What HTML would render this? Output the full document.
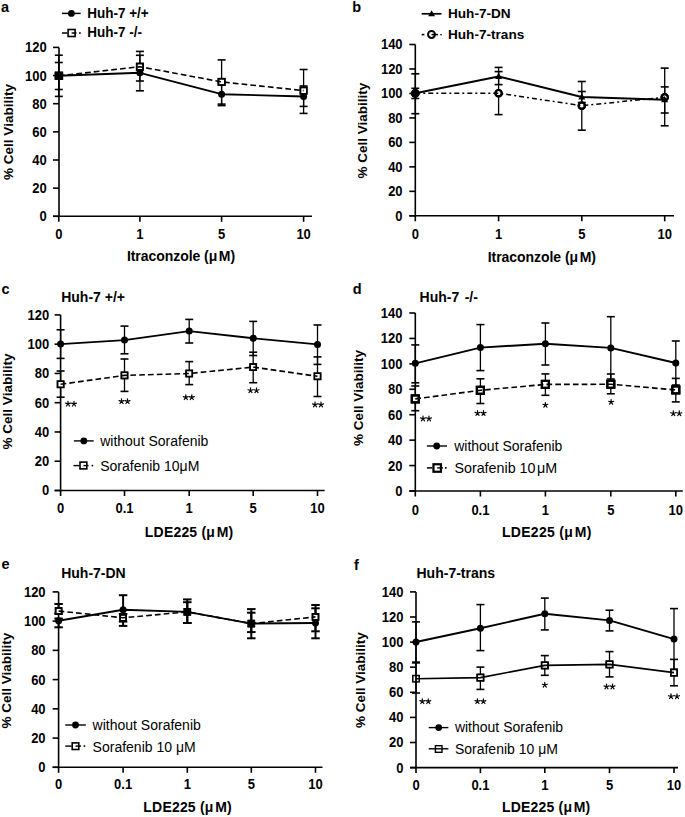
<!DOCTYPE html>
<html><head><meta charset="utf-8"><style>
html,body{margin:0;padding:0;background:#fff;overflow:hidden;width:685px;height:817px;}
svg{display:block;font-family:"Liberation Sans", sans-serif;}
</style></head><body>
<svg width="685" height="817" viewBox="0 0 685 817">
<rect width="685" height="817" fill="#fff"/>
<line x1="59" y1="47.4" x2="59" y2="217.1" stroke="#000" stroke-width="1.6"/>
<line x1="53" y1="216.3" x2="59" y2="216.3" stroke="#000" stroke-width="1.6"/>
<text transform="translate(46.8,221.27) scale(1,1.08)" font-size="13" font-weight="bold" text-anchor="end">0</text>
<line x1="53" y1="188.15" x2="59" y2="188.15" stroke="#000" stroke-width="1.6"/>
<text transform="translate(46.8,193.12) scale(1,1.08)" font-size="13" font-weight="bold" text-anchor="end">20</text>
<line x1="53" y1="160" x2="59" y2="160" stroke="#000" stroke-width="1.6"/>
<text transform="translate(46.8,164.97) scale(1,1.08)" font-size="13" font-weight="bold" text-anchor="end">40</text>
<line x1="53" y1="131.85" x2="59" y2="131.85" stroke="#000" stroke-width="1.6"/>
<text transform="translate(46.8,136.82) scale(1,1.08)" font-size="13" font-weight="bold" text-anchor="end">60</text>
<line x1="53" y1="103.7" x2="59" y2="103.7" stroke="#000" stroke-width="1.6"/>
<text transform="translate(46.8,108.67) scale(1,1.08)" font-size="13" font-weight="bold" text-anchor="end">80</text>
<line x1="53" y1="75.55" x2="59" y2="75.55" stroke="#000" stroke-width="1.6"/>
<text transform="translate(46.8,80.52) scale(1,1.08)" font-size="13" font-weight="bold" text-anchor="end">100</text>
<line x1="53" y1="47.4" x2="59" y2="47.4" stroke="#000" stroke-width="1.6"/>
<text transform="translate(46.8,52.37) scale(1,1.08)" font-size="13" font-weight="bold" text-anchor="end">120</text>
<line x1="53" y1="216.3" x2="312" y2="216.3" stroke="#000" stroke-width="1.6"/>
<line x1="58.8" y1="216.3" x2="58.8" y2="221.8" stroke="#000" stroke-width="1.6"/>
<text transform="translate(58.8,238.97) scale(1,1.08)" font-size="13" font-weight="bold" text-anchor="middle">0</text>
<line x1="139.9" y1="216.3" x2="139.9" y2="221.8" stroke="#000" stroke-width="1.6"/>
<text transform="translate(139.9,238.97) scale(1,1.08)" font-size="13" font-weight="bold" text-anchor="middle">1</text>
<line x1="221.6" y1="216.3" x2="221.6" y2="221.8" stroke="#000" stroke-width="1.6"/>
<text transform="translate(221.6,238.97) scale(1,1.08)" font-size="13" font-weight="bold" text-anchor="middle">5</text>
<line x1="303.6" y1="216.3" x2="303.6" y2="221.8" stroke="#000" stroke-width="1.6"/>
<text transform="translate(303.6,238.97) scale(1,1.08)" font-size="13" font-weight="bold" text-anchor="middle">10</text>
<text x="181" y="261.3" font-size="14" font-weight="bold" text-anchor="middle" letter-spacing="-0.05">Itraconzole (μ<tspan dx="1.6">M</tspan>)</text>
<text transform="translate(13.4,132) rotate(-90)" font-size="13.5" font-weight="bold" text-anchor="middle">% Cell Viability</text>
<line x1="58.8" y1="55.2" x2="58.8" y2="96.4" stroke="#000" stroke-width="1.3"/>
<line x1="54.8" y1="55.2" x2="62.8" y2="55.2" stroke="#000" stroke-width="1.6"/>
<line x1="54.8" y1="96.4" x2="62.8" y2="96.4" stroke="#000" stroke-width="1.6"/>
<line x1="139.9" y1="51.4" x2="139.9" y2="81" stroke="#000" stroke-width="1.3"/>
<line x1="135.9" y1="51.4" x2="143.9" y2="51.4" stroke="#000" stroke-width="1.6"/>
<line x1="135.9" y1="81" x2="143.9" y2="81" stroke="#000" stroke-width="1.6"/>
<line x1="221.6" y1="59.9" x2="221.6" y2="104.1" stroke="#000" stroke-width="1.3"/>
<line x1="217.6" y1="59.9" x2="225.6" y2="59.9" stroke="#000" stroke-width="1.6"/>
<line x1="217.6" y1="104.1" x2="225.6" y2="104.1" stroke="#000" stroke-width="1.6"/>
<line x1="303.6" y1="69.5" x2="303.6" y2="113.4" stroke="#000" stroke-width="1.3"/>
<line x1="299.6" y1="69.5" x2="307.6" y2="69.5" stroke="#000" stroke-width="1.6"/>
<line x1="299.6" y1="113.4" x2="307.6" y2="113.4" stroke="#000" stroke-width="1.6"/>
<line x1="58.8" y1="62.5" x2="58.8" y2="89.5" stroke="#000" stroke-width="1.3"/>
<line x1="54.8" y1="62.5" x2="62.8" y2="62.5" stroke="#000" stroke-width="1.6"/>
<line x1="54.8" y1="89.5" x2="62.8" y2="89.5" stroke="#000" stroke-width="1.6"/>
<line x1="139.9" y1="55.3" x2="139.9" y2="90.8" stroke="#000" stroke-width="1.3"/>
<line x1="135.9" y1="55.3" x2="143.9" y2="55.3" stroke="#000" stroke-width="1.6"/>
<line x1="135.9" y1="90.8" x2="143.9" y2="90.8" stroke="#000" stroke-width="1.6"/>
<line x1="221.6" y1="82.8" x2="221.6" y2="105.6" stroke="#000" stroke-width="1.3"/>
<line x1="217.6" y1="82.8" x2="225.6" y2="82.8" stroke="#000" stroke-width="1.6"/>
<line x1="217.6" y1="105.6" x2="225.6" y2="105.6" stroke="#000" stroke-width="1.6"/>
<line x1="303.6" y1="86" x2="303.6" y2="106.4" stroke="#000" stroke-width="1.3"/>
<line x1="299.6" y1="86" x2="307.6" y2="86" stroke="#000" stroke-width="1.6"/>
<line x1="299.6" y1="106.4" x2="307.6" y2="106.4" stroke="#000" stroke-width="1.6"/>
<rect x="55.6" y="72.6" width="6.4" height="6.4" fill="#fff" stroke="#000" stroke-width="1.6"/>
<rect x="136.7" y="63.5" width="6.4" height="6.4" fill="#fff" stroke="#000" stroke-width="1.6"/>
<rect x="218.4" y="78.7" width="6.4" height="6.4" fill="#fff" stroke="#000" stroke-width="1.6"/>
<rect x="300.4" y="87.4" width="6.4" height="6.4" fill="#fff" stroke="#000" stroke-width="1.6"/>
<polyline points="58.8,75.8 139.9,66.7 221.6,81.9 303.6,90.6" fill="none" stroke="#000" stroke-width="1.6" stroke-linejoin="round" stroke-dasharray="5.7,3.1"/>
<polyline points="58.8,75.8 139.9,72.8 221.6,94.2 303.6,96.5" fill="none" stroke="#000" stroke-width="1.9" stroke-linejoin="round"/>
<rect x="55.6" y="72.6" width="6.4" height="6.4" fill="none" stroke="#000" stroke-width="1.6"/>
<rect x="136.7" y="63.5" width="6.4" height="6.4" fill="none" stroke="#000" stroke-width="1.6"/>
<rect x="218.4" y="78.7" width="6.4" height="6.4" fill="none" stroke="#000" stroke-width="1.6"/>
<rect x="300.4" y="87.4" width="6.4" height="6.4" fill="none" stroke="#000" stroke-width="1.6"/>
<circle cx="58.8" cy="75.8" r="3.5" fill="#000"/>
<circle cx="139.9" cy="72.8" r="3.5" fill="#000"/>
<circle cx="221.6" cy="94.2" r="3.5" fill="#000"/>
<circle cx="303.6" cy="96.5" r="3.5" fill="#000"/>
<rect x="55.5" y="72.3" width="7" height="7" fill="#000" stroke="#000" stroke-width="1.4"/>
<line x1="62" y1="13.4" x2="80.7" y2="13.4" stroke="#000" stroke-width="1.5"/>
<circle cx="71.4" cy="13.4" r="3.4" fill="#000"/>
<line x1="62" y1="33" x2="67.5" y2="33" stroke="#000" stroke-width="1.5"/>
<line x1="79" y1="33" x2="80.8" y2="33" stroke="#000" stroke-width="1.6"/>
<rect x="68.1" y="29.5" width="7" height="7" fill="none" stroke="#000" stroke-width="1.6"/>
<line x1="71.6" y1="33" x2="76.5" y2="33" stroke="#000" stroke-width="1.5"/>
<text transform="translate(87.2,17.6) scale(1,1.04)" font-size="13.5" font-weight="bold" text-anchor="start">Huh-7 +/+</text>
<text transform="translate(87.2,37.3) scale(1,1.04)" font-size="13.5" font-weight="bold" text-anchor="start">Huh-7 -/-</text>
<text x="1" y="11.7" font-size="14.5" font-weight="bold" text-anchor="start">a</text>
<line x1="415.3" y1="44.51" x2="415.3" y2="216.6" stroke="#000" stroke-width="1.6"/>
<line x1="409.3" y1="215.8" x2="415.3" y2="215.8" stroke="#000" stroke-width="1.6"/>
<text transform="translate(402.6,220.77) scale(1,1.08)" font-size="13" font-weight="bold" text-anchor="end">0</text>
<line x1="409.3" y1="191.33" x2="415.3" y2="191.33" stroke="#000" stroke-width="1.6"/>
<text transform="translate(402.6,196.3) scale(1,1.08)" font-size="13" font-weight="bold" text-anchor="end">20</text>
<line x1="409.3" y1="166.86" x2="415.3" y2="166.86" stroke="#000" stroke-width="1.6"/>
<text transform="translate(402.6,171.83) scale(1,1.08)" font-size="13" font-weight="bold" text-anchor="end">40</text>
<line x1="409.3" y1="142.39" x2="415.3" y2="142.39" stroke="#000" stroke-width="1.6"/>
<text transform="translate(402.6,147.36) scale(1,1.08)" font-size="13" font-weight="bold" text-anchor="end">60</text>
<line x1="409.3" y1="117.92" x2="415.3" y2="117.92" stroke="#000" stroke-width="1.6"/>
<text transform="translate(402.6,122.89) scale(1,1.08)" font-size="13" font-weight="bold" text-anchor="end">80</text>
<line x1="409.3" y1="93.45" x2="415.3" y2="93.45" stroke="#000" stroke-width="1.6"/>
<text transform="translate(402.6,98.42) scale(1,1.08)" font-size="13" font-weight="bold" text-anchor="end">100</text>
<line x1="409.3" y1="68.98" x2="415.3" y2="68.98" stroke="#000" stroke-width="1.6"/>
<text transform="translate(402.6,73.95) scale(1,1.08)" font-size="13" font-weight="bold" text-anchor="end">120</text>
<line x1="409.3" y1="44.51" x2="415.3" y2="44.51" stroke="#000" stroke-width="1.6"/>
<text transform="translate(402.6,49.48) scale(1,1.08)" font-size="13" font-weight="bold" text-anchor="end">140</text>
<line x1="409.3" y1="215.8" x2="674" y2="215.8" stroke="#000" stroke-width="1.6"/>
<line x1="415.3" y1="215.8" x2="415.3" y2="221.3" stroke="#000" stroke-width="1.6"/>
<text transform="translate(415.3,238.87) scale(1,1.08)" font-size="13" font-weight="bold" text-anchor="middle">0</text>
<line x1="498.6" y1="215.8" x2="498.6" y2="221.3" stroke="#000" stroke-width="1.6"/>
<text transform="translate(498.6,238.87) scale(1,1.08)" font-size="13" font-weight="bold" text-anchor="middle">1</text>
<line x1="581.8" y1="215.8" x2="581.8" y2="221.3" stroke="#000" stroke-width="1.6"/>
<text transform="translate(581.8,238.87) scale(1,1.08)" font-size="13" font-weight="bold" text-anchor="middle">5</text>
<line x1="664.7" y1="215.8" x2="664.7" y2="221.3" stroke="#000" stroke-width="1.6"/>
<text transform="translate(664.7,238.87) scale(1,1.08)" font-size="13" font-weight="bold" text-anchor="middle">10</text>
<text x="541.8" y="261.6" font-size="14" font-weight="bold" text-anchor="middle" letter-spacing="-0.05">Itraconzole (μ<tspan dx="1.6">M</tspan>)</text>
<text transform="translate(367.3,130.6) rotate(-90)" font-size="13.5" font-weight="bold" text-anchor="middle">% Cell Viability</text>
<line x1="415.3" y1="73.8" x2="415.3" y2="113.7" stroke="#000" stroke-width="1.3"/>
<line x1="411.3" y1="73.8" x2="419.3" y2="73.8" stroke="#000" stroke-width="1.6"/>
<line x1="411.3" y1="113.7" x2="419.3" y2="113.7" stroke="#000" stroke-width="1.6"/>
<line x1="498.6" y1="71.6" x2="498.6" y2="114.6" stroke="#000" stroke-width="1.3"/>
<line x1="494.6" y1="71.6" x2="502.6" y2="71.6" stroke="#000" stroke-width="1.6"/>
<line x1="494.6" y1="114.6" x2="502.6" y2="114.6" stroke="#000" stroke-width="1.6"/>
<line x1="581.8" y1="81.5" x2="581.8" y2="130.2" stroke="#000" stroke-width="1.3"/>
<line x1="577.8" y1="81.5" x2="585.8" y2="81.5" stroke="#000" stroke-width="1.6"/>
<line x1="577.8" y1="130.2" x2="585.8" y2="130.2" stroke="#000" stroke-width="1.6"/>
<line x1="664.7" y1="68.1" x2="664.7" y2="125.8" stroke="#000" stroke-width="1.3"/>
<line x1="660.7" y1="68.1" x2="668.7" y2="68.1" stroke="#000" stroke-width="1.6"/>
<line x1="660.7" y1="125.8" x2="668.7" y2="125.8" stroke="#000" stroke-width="1.6"/>
<line x1="415.3" y1="88.3" x2="415.3" y2="98.5" stroke="#000" stroke-width="1.3"/>
<line x1="411.3" y1="88.3" x2="419.3" y2="88.3" stroke="#000" stroke-width="1.6"/>
<line x1="411.3" y1="98.5" x2="419.3" y2="98.5" stroke="#000" stroke-width="1.6"/>
<line x1="498.6" y1="67.4" x2="498.6" y2="84.6" stroke="#000" stroke-width="1.3"/>
<line x1="494.6" y1="67.4" x2="502.6" y2="67.4" stroke="#000" stroke-width="1.6"/>
<line x1="494.6" y1="84.6" x2="502.6" y2="84.6" stroke="#000" stroke-width="1.6"/>
<line x1="581.8" y1="91.5" x2="581.8" y2="102.5" stroke="#000" stroke-width="1.3"/>
<line x1="577.8" y1="91.5" x2="585.8" y2="91.5" stroke="#000" stroke-width="1.6"/>
<line x1="577.8" y1="102.5" x2="585.8" y2="102.5" stroke="#000" stroke-width="1.6"/>
<line x1="664.7" y1="86.9" x2="664.7" y2="113" stroke="#000" stroke-width="1.3"/>
<line x1="660.7" y1="86.9" x2="668.7" y2="86.9" stroke="#000" stroke-width="1.6"/>
<line x1="660.7" y1="113" x2="668.7" y2="113" stroke="#000" stroke-width="1.6"/>
<circle cx="415.3" cy="93.2" r="3.2" fill="#fff" stroke="#000" stroke-width="2.1"/>
<circle cx="498.6" cy="93.2" r="3.2" fill="#fff" stroke="#000" stroke-width="2.1"/>
<circle cx="581.8" cy="105.7" r="3.2" fill="#fff" stroke="#000" stroke-width="2.1"/>
<circle cx="664.7" cy="97.3" r="3.2" fill="#fff" stroke="#000" stroke-width="2.1"/>
<polyline points="415.3,93.2 498.6,93.2 581.8,105.7 664.7,97.3" fill="none" stroke="#000" stroke-width="1.5" stroke-linejoin="round" stroke-dasharray="5,3,2,3"/>
<polyline points="415.3,93.2 498.6,76.5 581.8,97 664.7,99.7" fill="none" stroke="#000" stroke-width="1.9" stroke-linejoin="round"/>
<circle cx="415.3" cy="93.2" r="3.2" fill="none" stroke="#000" stroke-width="2.1"/>
<circle cx="498.6" cy="93.2" r="3.2" fill="none" stroke="#000" stroke-width="2.1"/>
<circle cx="581.8" cy="105.7" r="3.2" fill="none" stroke="#000" stroke-width="2.1"/>
<circle cx="664.7" cy="97.3" r="3.2" fill="none" stroke="#000" stroke-width="2.1"/>
<polygon points="415.3,89.42 418.8,95.72 411.8,95.72" fill="#000"/>
<polygon points="498.6,72.72 502.1,79.02 495.1,79.02" fill="#000"/>
<polygon points="581.8,93.22 585.3,99.52 578.3,99.52" fill="#000"/>
<polygon points="664.7,95.92 668.2,102.22 661.2,102.22" fill="#000"/>
<circle cx="415.3" cy="93.5" r="4.3" fill="#000"/>
<line x1="421.7" y1="13.8" x2="441.5" y2="13.8" stroke="#000" stroke-width="1.7"/>
<polygon points="431.6,10.13 435,16.25 428.2,16.25" fill="#000"/>
<line x1="421.7" y1="34.6" x2="424.4" y2="34.6" stroke="#000" stroke-width="1.6"/>
<line x1="440.3" y1="34.6" x2="441.8" y2="34.6" stroke="#000" stroke-width="1.4"/>
<circle cx="431.5" cy="34.5" r="3.45" fill="none" stroke="#000" stroke-width="2"/>
<line x1="431.5" y1="34.6" x2="438" y2="34.6" stroke="#000" stroke-width="1.5"/>
<text x="448" y="18.4" font-size="13.6" font-weight="bold" text-anchor="start">Huh-7-DN</text>
<text x="448" y="38.5" font-size="13.6" font-weight="bold" text-anchor="start">Huh-7-trans</text>
<text x="352.2" y="11.8" font-size="14.5" font-weight="bold" text-anchor="start">b</text>
<line x1="60.6" y1="314.9" x2="60.6" y2="491.3" stroke="#000" stroke-width="1.6"/>
<line x1="54.6" y1="490.5" x2="60.6" y2="490.5" stroke="#000" stroke-width="1.6"/>
<text transform="translate(49.2,495.47) scale(1,1.08)" font-size="13" font-weight="bold" text-anchor="end">0</text>
<line x1="54.6" y1="461.23" x2="60.6" y2="461.23" stroke="#000" stroke-width="1.6"/>
<text transform="translate(49.2,466.2) scale(1,1.08)" font-size="13" font-weight="bold" text-anchor="end">20</text>
<line x1="54.6" y1="431.97" x2="60.6" y2="431.97" stroke="#000" stroke-width="1.6"/>
<text transform="translate(49.2,436.94) scale(1,1.08)" font-size="13" font-weight="bold" text-anchor="end">40</text>
<line x1="54.6" y1="402.7" x2="60.6" y2="402.7" stroke="#000" stroke-width="1.6"/>
<text transform="translate(49.2,407.67) scale(1,1.08)" font-size="13" font-weight="bold" text-anchor="end">60</text>
<line x1="54.6" y1="373.44" x2="60.6" y2="373.44" stroke="#000" stroke-width="1.6"/>
<text transform="translate(49.2,378.41) scale(1,1.08)" font-size="13" font-weight="bold" text-anchor="end">80</text>
<line x1="54.6" y1="344.17" x2="60.6" y2="344.17" stroke="#000" stroke-width="1.6"/>
<text transform="translate(49.2,349.14) scale(1,1.08)" font-size="13" font-weight="bold" text-anchor="end">100</text>
<line x1="54.6" y1="314.9" x2="60.6" y2="314.9" stroke="#000" stroke-width="1.6"/>
<text transform="translate(49.2,319.87) scale(1,1.08)" font-size="13" font-weight="bold" text-anchor="end">120</text>
<line x1="54.6" y1="490.5" x2="324.6" y2="490.5" stroke="#000" stroke-width="1.6"/>
<line x1="60.6" y1="490.5" x2="60.6" y2="496" stroke="#000" stroke-width="1.6"/>
<text transform="translate(60.6,512.97) scale(1,1.08)" font-size="13" font-weight="bold" text-anchor="middle">0</text>
<line x1="124.5" y1="490.5" x2="124.5" y2="496" stroke="#000" stroke-width="1.6"/>
<text transform="translate(124.5,512.97) scale(1,1.08)" font-size="13" font-weight="bold" text-anchor="middle">0.1</text>
<line x1="189.2" y1="490.5" x2="189.2" y2="496" stroke="#000" stroke-width="1.6"/>
<text transform="translate(189.2,512.97) scale(1,1.08)" font-size="13" font-weight="bold" text-anchor="middle">1</text>
<line x1="253.2" y1="490.5" x2="253.2" y2="496" stroke="#000" stroke-width="1.6"/>
<text transform="translate(253.2,512.97) scale(1,1.08)" font-size="13" font-weight="bold" text-anchor="middle">5</text>
<line x1="317.5" y1="490.5" x2="317.5" y2="496" stroke="#000" stroke-width="1.6"/>
<text transform="translate(317.5,512.97) scale(1,1.08)" font-size="13" font-weight="bold" text-anchor="middle">10</text>
<text transform="translate(189.1,537.2) scale(1,1.04)" font-size="14" font-weight="bold" text-anchor="middle" letter-spacing="0.2">LDE225 (μ<tspan dx="1.6">M</tspan>)</text>
<text transform="translate(12.2,401.5) rotate(-90)" font-size="13.5" font-weight="bold" text-anchor="middle">% Cell Viability</text>
<line x1="60.6" y1="371" x2="60.6" y2="397.2" stroke="#000" stroke-width="1.3"/>
<line x1="56.6" y1="371" x2="64.6" y2="371" stroke="#000" stroke-width="1.6"/>
<line x1="56.6" y1="397.2" x2="64.6" y2="397.2" stroke="#000" stroke-width="1.6"/>
<line x1="124.5" y1="359" x2="124.5" y2="391.4" stroke="#000" stroke-width="1.3"/>
<line x1="120.5" y1="359" x2="128.5" y2="359" stroke="#000" stroke-width="1.6"/>
<line x1="120.5" y1="391.4" x2="128.5" y2="391.4" stroke="#000" stroke-width="1.6"/>
<line x1="189.2" y1="361.6" x2="189.2" y2="384.6" stroke="#000" stroke-width="1.3"/>
<line x1="185.2" y1="361.6" x2="193.2" y2="361.6" stroke="#000" stroke-width="1.6"/>
<line x1="185.2" y1="384.6" x2="193.2" y2="384.6" stroke="#000" stroke-width="1.6"/>
<line x1="253.2" y1="352.2" x2="253.2" y2="382.7" stroke="#000" stroke-width="1.3"/>
<line x1="249.2" y1="352.2" x2="257.2" y2="352.2" stroke="#000" stroke-width="1.6"/>
<line x1="249.2" y1="382.7" x2="257.2" y2="382.7" stroke="#000" stroke-width="1.6"/>
<line x1="317.5" y1="356.9" x2="317.5" y2="396.5" stroke="#000" stroke-width="1.3"/>
<line x1="313.5" y1="356.9" x2="321.5" y2="356.9" stroke="#000" stroke-width="1.6"/>
<line x1="313.5" y1="396.5" x2="321.5" y2="396.5" stroke="#000" stroke-width="1.6"/>
<line x1="60.6" y1="329.8" x2="60.6" y2="358.4" stroke="#000" stroke-width="1.3"/>
<line x1="56.6" y1="329.8" x2="64.6" y2="329.8" stroke="#000" stroke-width="1.6"/>
<line x1="56.6" y1="358.4" x2="64.6" y2="358.4" stroke="#000" stroke-width="1.6"/>
<line x1="124.5" y1="326.1" x2="124.5" y2="353.8" stroke="#000" stroke-width="1.3"/>
<line x1="120.5" y1="326.1" x2="128.5" y2="326.1" stroke="#000" stroke-width="1.6"/>
<line x1="120.5" y1="353.8" x2="128.5" y2="353.8" stroke="#000" stroke-width="1.6"/>
<line x1="189.2" y1="319.4" x2="189.2" y2="343" stroke="#000" stroke-width="1.3"/>
<line x1="185.2" y1="319.4" x2="193.2" y2="319.4" stroke="#000" stroke-width="1.6"/>
<line x1="185.2" y1="343" x2="193.2" y2="343" stroke="#000" stroke-width="1.6"/>
<line x1="253.2" y1="321.4" x2="253.2" y2="355.5" stroke="#000" stroke-width="1.3"/>
<line x1="249.2" y1="321.4" x2="257.2" y2="321.4" stroke="#000" stroke-width="1.6"/>
<line x1="249.2" y1="355.5" x2="257.2" y2="355.5" stroke="#000" stroke-width="1.6"/>
<line x1="317.5" y1="325" x2="317.5" y2="364.4" stroke="#000" stroke-width="1.3"/>
<line x1="313.5" y1="325" x2="321.5" y2="325" stroke="#000" stroke-width="1.6"/>
<line x1="313.5" y1="364.4" x2="321.5" y2="364.4" stroke="#000" stroke-width="1.6"/>
<rect x="57.5" y="381.2" width="6.2" height="6.2" fill="#fff" stroke="#000" stroke-width="1.5"/>
<rect x="121.4" y="372.3" width="6.2" height="6.2" fill="#fff" stroke="#000" stroke-width="1.5"/>
<rect x="186.1" y="370.4" width="6.2" height="6.2" fill="#fff" stroke="#000" stroke-width="1.5"/>
<rect x="250.1" y="364" width="6.2" height="6.2" fill="#fff" stroke="#000" stroke-width="1.5"/>
<rect x="314.4" y="373.2" width="6.2" height="6.2" fill="#fff" stroke="#000" stroke-width="1.5"/>
<polyline points="60.6,384.3 124.5,375.4 189.2,373.5 253.2,367.1 317.5,376.3" fill="none" stroke="#000" stroke-width="1.6" stroke-linejoin="round" stroke-dasharray="5.7,3.1"/>
<polyline points="60.6,344.1 124.5,340.1 189.2,331.1 253.2,338.3 317.5,344.4" fill="none" stroke="#000" stroke-width="1.9" stroke-linejoin="round"/>
<rect x="57.5" y="381.2" width="6.2" height="6.2" fill="none" stroke="#000" stroke-width="1.5"/>
<rect x="121.4" y="372.3" width="6.2" height="6.2" fill="none" stroke="#000" stroke-width="1.5"/>
<rect x="186.1" y="370.4" width="6.2" height="6.2" fill="none" stroke="#000" stroke-width="1.5"/>
<rect x="250.1" y="364" width="6.2" height="6.2" fill="none" stroke="#000" stroke-width="1.5"/>
<rect x="314.4" y="373.2" width="6.2" height="6.2" fill="none" stroke="#000" stroke-width="1.5"/>
<circle cx="60.6" cy="344.1" r="3.5" fill="#000"/>
<circle cx="124.5" cy="340.1" r="3.5" fill="#000"/>
<circle cx="189.2" cy="331.1" r="3.5" fill="#000"/>
<circle cx="253.2" cy="338.3" r="3.5" fill="#000"/>
<circle cx="317.5" cy="344.4" r="3.5" fill="#000"/>
<path d="M68,403.9L68,401.3M68,403.9L70.47,403.1M68,403.9L69.53,406M68,403.9L66.47,406M68,403.9L65.53,403.1" stroke="#000" stroke-width="1.2" stroke-linecap="round" fill="none"/>
<path d="M74,403.9L74,401.3M74,403.9L76.47,403.1M74,403.9L75.53,406M74,403.9L72.47,406M74,403.9L71.53,403.1" stroke="#000" stroke-width="1.2" stroke-linecap="round" fill="none"/>
<path d="M121.5,401.4L121.5,398.8M121.5,401.4L123.97,400.6M121.5,401.4L123.03,403.5M121.5,401.4L119.97,403.5M121.5,401.4L119.03,400.6" stroke="#000" stroke-width="1.2" stroke-linecap="round" fill="none"/>
<path d="M127.5,401.4L127.5,398.8M127.5,401.4L129.97,400.6M127.5,401.4L129.03,403.5M127.5,401.4L125.97,403.5M127.5,401.4L125.03,400.6" stroke="#000" stroke-width="1.2" stroke-linecap="round" fill="none"/>
<path d="M185.8,397.4L185.8,394.8M185.8,397.4L188.27,396.6M185.8,397.4L187.33,399.5M185.8,397.4L184.27,399.5M185.8,397.4L183.33,396.6" stroke="#000" stroke-width="1.2" stroke-linecap="round" fill="none"/>
<path d="M191.8,397.4L191.8,394.8M191.8,397.4L194.27,396.6M191.8,397.4L193.33,399.5M191.8,397.4L190.27,399.5M191.8,397.4L189.33,396.6" stroke="#000" stroke-width="1.2" stroke-linecap="round" fill="none"/>
<path d="M250.5,390.5L250.5,387.9M250.5,390.5L252.97,389.7M250.5,390.5L252.03,392.6M250.5,390.5L248.97,392.6M250.5,390.5L248.03,389.7" stroke="#000" stroke-width="1.2" stroke-linecap="round" fill="none"/>
<path d="M256.5,390.5L256.5,387.9M256.5,390.5L258.97,389.7M256.5,390.5L258.03,392.6M256.5,390.5L254.97,392.6M256.5,390.5L254.03,389.7" stroke="#000" stroke-width="1.2" stroke-linecap="round" fill="none"/>
<path d="M315,404.7L315,402.1M315,404.7L317.47,403.9M315,404.7L316.53,406.8M315,404.7L313.47,406.8M315,404.7L312.53,403.9" stroke="#000" stroke-width="1.2" stroke-linecap="round" fill="none"/>
<path d="M321,404.7L321,402.1M321,404.7L323.47,403.9M321,404.7L322.53,406.8M321,404.7L319.47,406.8M321,404.7L318.53,403.9" stroke="#000" stroke-width="1.2" stroke-linecap="round" fill="none"/>
<text x="61.2" y="301.6" font-size="14" font-weight="bold" text-anchor="start">Huh-7 +/+</text>
<line x1="73.9" y1="440.9" x2="93.7" y2="440.9" stroke="#000" stroke-width="1.4"/>
<circle cx="83.8" cy="440.9" r="3.4" fill="#000"/>
<line x1="73.4" y1="465.6" x2="79.3" y2="465.6" stroke="#000" stroke-width="1.4"/>
<line x1="91.6" y1="465.6" x2="93.2" y2="465.6" stroke="#000" stroke-width="1.6"/>
<rect x="80" y="462.1" width="6.8" height="6.8" fill="none" stroke="#000" stroke-width="1.6"/>
<line x1="83.4" y1="465.6" x2="88.5" y2="465.6" stroke="#000" stroke-width="1.4"/>
<text x="100.2" y="446" font-size="14" font-weight="normal" text-anchor="start">without Sorafenib</text>
<text x="100.2" y="470.8" font-size="14" font-weight="normal" text-anchor="start">Sorafenib 10μM</text>
<text x="1.5" y="293.6" font-size="14.5" font-weight="bold" text-anchor="start">c</text>
<line x1="415.3" y1="313" x2="415.3" y2="491.8" stroke="#000" stroke-width="1.6"/>
<line x1="409.3" y1="491" x2="415.3" y2="491" stroke="#000" stroke-width="1.6"/>
<text transform="translate(402.4,495.97) scale(1,1.08)" font-size="13" font-weight="bold" text-anchor="end">0</text>
<line x1="409.3" y1="465.57" x2="415.3" y2="465.57" stroke="#000" stroke-width="1.6"/>
<text transform="translate(402.4,470.54) scale(1,1.08)" font-size="13" font-weight="bold" text-anchor="end">20</text>
<line x1="409.3" y1="440.14" x2="415.3" y2="440.14" stroke="#000" stroke-width="1.6"/>
<text transform="translate(402.4,445.11) scale(1,1.08)" font-size="13" font-weight="bold" text-anchor="end">40</text>
<line x1="409.3" y1="414.72" x2="415.3" y2="414.72" stroke="#000" stroke-width="1.6"/>
<text transform="translate(402.4,419.69) scale(1,1.08)" font-size="13" font-weight="bold" text-anchor="end">60</text>
<line x1="409.3" y1="389.29" x2="415.3" y2="389.29" stroke="#000" stroke-width="1.6"/>
<text transform="translate(402.4,394.26) scale(1,1.08)" font-size="13" font-weight="bold" text-anchor="end">80</text>
<line x1="409.3" y1="363.86" x2="415.3" y2="363.86" stroke="#000" stroke-width="1.6"/>
<text transform="translate(402.4,368.83) scale(1,1.08)" font-size="13" font-weight="bold" text-anchor="end">100</text>
<line x1="409.3" y1="338.43" x2="415.3" y2="338.43" stroke="#000" stroke-width="1.6"/>
<text transform="translate(402.4,343.4) scale(1,1.08)" font-size="13" font-weight="bold" text-anchor="end">120</text>
<line x1="409.3" y1="313" x2="415.3" y2="313" stroke="#000" stroke-width="1.6"/>
<text transform="translate(402.4,317.97) scale(1,1.08)" font-size="13" font-weight="bold" text-anchor="end">140</text>
<line x1="409.3" y1="491" x2="682.8" y2="491" stroke="#000" stroke-width="1.6"/>
<line x1="415.3" y1="491" x2="415.3" y2="496.5" stroke="#000" stroke-width="1.6"/>
<text transform="translate(415.3,514.77) scale(1,1.08)" font-size="13" font-weight="bold" text-anchor="middle">0</text>
<line x1="480.4" y1="491" x2="480.4" y2="496.5" stroke="#000" stroke-width="1.6"/>
<text transform="translate(480.4,514.77) scale(1,1.08)" font-size="13" font-weight="bold" text-anchor="middle">0.1</text>
<line x1="545.4" y1="491" x2="545.4" y2="496.5" stroke="#000" stroke-width="1.6"/>
<text transform="translate(545.4,514.77) scale(1,1.08)" font-size="13" font-weight="bold" text-anchor="middle">1</text>
<line x1="610.8" y1="491" x2="610.8" y2="496.5" stroke="#000" stroke-width="1.6"/>
<text transform="translate(610.8,514.77) scale(1,1.08)" font-size="13" font-weight="bold" text-anchor="middle">5</text>
<line x1="675.8" y1="491" x2="675.8" y2="496.5" stroke="#000" stroke-width="1.6"/>
<text transform="translate(675.8,514.77) scale(1,1.08)" font-size="13" font-weight="bold" text-anchor="middle">10</text>
<text transform="translate(546.8,537.2) scale(1,1.04)" font-size="14" font-weight="bold" text-anchor="middle" letter-spacing="0.3">LDE225 (μ<tspan dx="1.6">M</tspan>)</text>
<text transform="translate(362.9,398) rotate(-90)" font-size="13.5" font-weight="bold" text-anchor="middle">% Cell Viability</text>
<line x1="415.3" y1="386" x2="415.3" y2="410.7" stroke="#000" stroke-width="1.3"/>
<line x1="411.3" y1="386" x2="419.3" y2="386" stroke="#000" stroke-width="1.6"/>
<line x1="411.3" y1="410.7" x2="419.3" y2="410.7" stroke="#000" stroke-width="1.6"/>
<line x1="480.4" y1="378.8" x2="480.4" y2="403.5" stroke="#000" stroke-width="1.3"/>
<line x1="476.4" y1="378.8" x2="484.4" y2="378.8" stroke="#000" stroke-width="1.6"/>
<line x1="476.4" y1="403.5" x2="484.4" y2="403.5" stroke="#000" stroke-width="1.6"/>
<line x1="545.4" y1="373.9" x2="545.4" y2="395.3" stroke="#000" stroke-width="1.3"/>
<line x1="541.4" y1="373.9" x2="549.4" y2="373.9" stroke="#000" stroke-width="1.6"/>
<line x1="541.4" y1="395.3" x2="549.4" y2="395.3" stroke="#000" stroke-width="1.6"/>
<line x1="610.8" y1="374" x2="610.8" y2="393.8" stroke="#000" stroke-width="1.3"/>
<line x1="606.8" y1="374" x2="614.8" y2="374" stroke="#000" stroke-width="1.6"/>
<line x1="606.8" y1="393.8" x2="614.8" y2="393.8" stroke="#000" stroke-width="1.6"/>
<line x1="675.8" y1="378.4" x2="675.8" y2="401.9" stroke="#000" stroke-width="1.3"/>
<line x1="671.8" y1="378.4" x2="679.8" y2="378.4" stroke="#000" stroke-width="1.6"/>
<line x1="671.8" y1="401.9" x2="679.8" y2="401.9" stroke="#000" stroke-width="1.6"/>
<line x1="415.3" y1="344.9" x2="415.3" y2="382.8" stroke="#000" stroke-width="1.3"/>
<line x1="411.3" y1="344.9" x2="419.3" y2="344.9" stroke="#000" stroke-width="1.6"/>
<line x1="411.3" y1="382.8" x2="419.3" y2="382.8" stroke="#000" stroke-width="1.6"/>
<line x1="480.4" y1="324.6" x2="480.4" y2="370.6" stroke="#000" stroke-width="1.3"/>
<line x1="476.4" y1="324.6" x2="484.4" y2="324.6" stroke="#000" stroke-width="1.6"/>
<line x1="476.4" y1="370.6" x2="484.4" y2="370.6" stroke="#000" stroke-width="1.6"/>
<line x1="545.4" y1="323" x2="545.4" y2="365" stroke="#000" stroke-width="1.3"/>
<line x1="541.4" y1="323" x2="549.4" y2="323" stroke="#000" stroke-width="1.6"/>
<line x1="541.4" y1="365" x2="549.4" y2="365" stroke="#000" stroke-width="1.6"/>
<line x1="610.8" y1="316.7" x2="610.8" y2="379" stroke="#000" stroke-width="1.3"/>
<line x1="606.8" y1="316.7" x2="614.8" y2="316.7" stroke="#000" stroke-width="1.6"/>
<line x1="606.8" y1="379" x2="614.8" y2="379" stroke="#000" stroke-width="1.6"/>
<line x1="675.8" y1="341" x2="675.8" y2="385" stroke="#000" stroke-width="1.3"/>
<line x1="671.8" y1="341" x2="679.8" y2="341" stroke="#000" stroke-width="1.6"/>
<line x1="671.8" y1="385" x2="679.8" y2="385" stroke="#000" stroke-width="1.6"/>
<rect x="411.8" y="395.4" width="7" height="7" fill="#fff" stroke="#000" stroke-width="2.2"/>
<rect x="476.9" y="386.8" width="7" height="7" fill="#fff" stroke="#000" stroke-width="2.2"/>
<rect x="541.9" y="380.9" width="7" height="7" fill="#fff" stroke="#000" stroke-width="2.2"/>
<rect x="607.3" y="380.8" width="7" height="7" fill="#fff" stroke="#000" stroke-width="2.2"/>
<rect x="672.3" y="386.4" width="7" height="7" fill="#fff" stroke="#000" stroke-width="2.2"/>
<polyline points="415.3,398.9 480.4,390.3 545.4,384.4 610.8,384.3 675.8,389.9" fill="none" stroke="#000" stroke-width="1.6" stroke-linejoin="round" stroke-dasharray="5.7,3.1"/>
<polyline points="415.3,363.3 480.4,347.6 545.4,343.7 610.8,347.9 675.8,363" fill="none" stroke="#000" stroke-width="1.9" stroke-linejoin="round"/>
<rect x="411.8" y="395.4" width="7" height="7" fill="none" stroke="#000" stroke-width="2.2"/>
<rect x="476.9" y="386.8" width="7" height="7" fill="none" stroke="#000" stroke-width="2.2"/>
<rect x="541.9" y="380.9" width="7" height="7" fill="none" stroke="#000" stroke-width="2.2"/>
<rect x="607.3" y="380.8" width="7" height="7" fill="none" stroke="#000" stroke-width="2.2"/>
<rect x="672.3" y="386.4" width="7" height="7" fill="none" stroke="#000" stroke-width="2.2"/>
<circle cx="415.3" cy="363.3" r="3.5" fill="#000"/>
<circle cx="480.4" cy="347.6" r="3.5" fill="#000"/>
<circle cx="545.4" cy="343.7" r="3.5" fill="#000"/>
<circle cx="610.8" cy="347.9" r="3.5" fill="#000"/>
<circle cx="675.8" cy="363" r="3.5" fill="#000"/>
<path d="M423,418.7L423,416.1M423,418.7L425.47,417.9M423,418.7L424.53,420.8M423,418.7L421.47,420.8M423,418.7L420.53,417.9" stroke="#000" stroke-width="1.2" stroke-linecap="round" fill="none"/>
<path d="M429,418.7L429,416.1M429,418.7L431.47,417.9M429,418.7L430.53,420.8M429,418.7L427.47,420.8M429,418.7L426.53,417.9" stroke="#000" stroke-width="1.2" stroke-linecap="round" fill="none"/>
<path d="M477.5,413.2L477.5,410.6M477.5,413.2L479.97,412.4M477.5,413.2L479.03,415.3M477.5,413.2L475.97,415.3M477.5,413.2L475.03,412.4" stroke="#000" stroke-width="1.2" stroke-linecap="round" fill="none"/>
<path d="M483.5,413.2L483.5,410.6M483.5,413.2L485.97,412.4M483.5,413.2L485.03,415.3M483.5,413.2L481.97,415.3M483.5,413.2L481.03,412.4" stroke="#000" stroke-width="1.2" stroke-linecap="round" fill="none"/>
<path d="M545.4,405.1L545.4,402.5M545.4,405.1L547.87,404.3M545.4,405.1L546.93,407.2M545.4,405.1L543.87,407.2M545.4,405.1L542.93,404.3" stroke="#000" stroke-width="1.2" stroke-linecap="round" fill="none"/>
<path d="M611.1,402.1L611.1,399.5M611.1,402.1L613.57,401.3M611.1,402.1L612.63,404.2M611.1,402.1L609.57,404.2M611.1,402.1L608.63,401.3" stroke="#000" stroke-width="1.2" stroke-linecap="round" fill="none"/>
<path d="M673.3,413.5L673.3,410.9M673.3,413.5L675.77,412.7M673.3,413.5L674.83,415.6M673.3,413.5L671.77,415.6M673.3,413.5L670.83,412.7" stroke="#000" stroke-width="1.2" stroke-linecap="round" fill="none"/>
<path d="M679.3,413.5L679.3,410.9M679.3,413.5L681.77,412.7M679.3,413.5L680.83,415.6M679.3,413.5L677.77,415.6M679.3,413.5L676.83,412.7" stroke="#000" stroke-width="1.2" stroke-linecap="round" fill="none"/>
<text x="419.6" y="301.5" font-size="14" font-weight="bold" text-anchor="start" word-spacing="1.5">Huh-7 -/-</text>
<line x1="426.9" y1="446" x2="447" y2="446" stroke="#000" stroke-width="1.4"/>
<circle cx="436.7" cy="446" r="3.4" fill="#000"/>
<line x1="426.9" y1="467.9" x2="432.5" y2="467.9" stroke="#000" stroke-width="1.5"/>
<line x1="445" y1="467.9" x2="446.6" y2="467.9" stroke="#000" stroke-width="1.6"/>
<rect x="433.45" y="464.25" width="7.5" height="7.5" fill="none" stroke="#000" stroke-width="2.2"/>
<line x1="437.2" y1="467.9" x2="443" y2="467.9" stroke="#000" stroke-width="1.4"/>
<text x="454.2" y="450.8" font-size="14" font-weight="normal" text-anchor="start">without Sorafenib</text>
<text x="454.4" y="473.3" font-size="14.3" font-weight="normal" text-anchor="start">Sorafenib 10<tspan dx="1.6">μ</tspan>M</text>
<text x="352.8" y="293.8" font-size="14.5" font-weight="bold" text-anchor="start">d</text>
<line x1="58.6" y1="591.9" x2="58.6" y2="768.1" stroke="#000" stroke-width="1.6"/>
<line x1="52.6" y1="767.3" x2="58.6" y2="767.3" stroke="#000" stroke-width="1.6"/>
<text transform="translate(45.6,772.27) scale(1,1.08)" font-size="13" font-weight="bold" text-anchor="end">0</text>
<line x1="52.6" y1="738.07" x2="58.6" y2="738.07" stroke="#000" stroke-width="1.6"/>
<text transform="translate(45.6,743.04) scale(1,1.08)" font-size="13" font-weight="bold" text-anchor="end">20</text>
<line x1="52.6" y1="708.83" x2="58.6" y2="708.83" stroke="#000" stroke-width="1.6"/>
<text transform="translate(45.6,713.8) scale(1,1.08)" font-size="13" font-weight="bold" text-anchor="end">40</text>
<line x1="52.6" y1="679.6" x2="58.6" y2="679.6" stroke="#000" stroke-width="1.6"/>
<text transform="translate(45.6,684.57) scale(1,1.08)" font-size="13" font-weight="bold" text-anchor="end">60</text>
<line x1="52.6" y1="650.36" x2="58.6" y2="650.36" stroke="#000" stroke-width="1.6"/>
<text transform="translate(45.6,655.33) scale(1,1.08)" font-size="13" font-weight="bold" text-anchor="end">80</text>
<line x1="52.6" y1="621.13" x2="58.6" y2="621.13" stroke="#000" stroke-width="1.6"/>
<text transform="translate(45.6,626.1) scale(1,1.08)" font-size="13" font-weight="bold" text-anchor="end">100</text>
<line x1="52.6" y1="591.9" x2="58.6" y2="591.9" stroke="#000" stroke-width="1.6"/>
<text transform="translate(45.6,596.87) scale(1,1.08)" font-size="13" font-weight="bold" text-anchor="end">120</text>
<line x1="52.6" y1="767.3" x2="322.5" y2="767.3" stroke="#000" stroke-width="1.6"/>
<line x1="58.6" y1="767.3" x2="58.6" y2="772.8" stroke="#000" stroke-width="1.6"/>
<text transform="translate(58.6,789.37) scale(1,1.08)" font-size="13" font-weight="bold" text-anchor="middle">0</text>
<line x1="123.1" y1="767.3" x2="123.1" y2="772.8" stroke="#000" stroke-width="1.6"/>
<text transform="translate(123.1,789.37) scale(1,1.08)" font-size="13" font-weight="bold" text-anchor="middle">0.1</text>
<line x1="187.3" y1="767.3" x2="187.3" y2="772.8" stroke="#000" stroke-width="1.6"/>
<text transform="translate(187.3,789.37) scale(1,1.08)" font-size="13" font-weight="bold" text-anchor="middle">1</text>
<line x1="251.3" y1="767.3" x2="251.3" y2="772.8" stroke="#000" stroke-width="1.6"/>
<text transform="translate(251.3,789.37) scale(1,1.08)" font-size="13" font-weight="bold" text-anchor="middle">5</text>
<line x1="315.5" y1="767.3" x2="315.5" y2="772.8" stroke="#000" stroke-width="1.6"/>
<text transform="translate(315.5,789.37) scale(1,1.08)" font-size="13" font-weight="bold" text-anchor="middle">10</text>
<text transform="translate(187.6,812) scale(1,1.04)" font-size="14" font-weight="bold" text-anchor="middle" letter-spacing="0.2">LDE225 (μ<tspan dx="1.6">M</tspan>)</text>
<text transform="translate(10.6,680.7) rotate(-90)" font-size="13.5" font-weight="bold" text-anchor="middle">% Cell Viability</text>
<line x1="58.6" y1="604" x2="58.6" y2="613.5" stroke="#000" stroke-width="2"/>
<line x1="54.35" y1="604" x2="62.85" y2="604" stroke="#000" stroke-width="2"/>
<line x1="54.35" y1="613.5" x2="62.85" y2="613.5" stroke="#000" stroke-width="2"/>
<line x1="123.1" y1="614" x2="123.1" y2="621.6" stroke="#000" stroke-width="2"/>
<line x1="118.85" y1="614" x2="127.35" y2="614" stroke="#000" stroke-width="2"/>
<line x1="118.85" y1="621.6" x2="127.35" y2="621.6" stroke="#000" stroke-width="2"/>
<line x1="187.3" y1="602.2" x2="187.3" y2="623" stroke="#000" stroke-width="2"/>
<line x1="183.05" y1="602.2" x2="191.55" y2="602.2" stroke="#000" stroke-width="2"/>
<line x1="183.05" y1="623" x2="191.55" y2="623" stroke="#000" stroke-width="2"/>
<line x1="251.3" y1="612.7" x2="251.3" y2="632.1" stroke="#000" stroke-width="2"/>
<line x1="247.05" y1="612.7" x2="255.55" y2="612.7" stroke="#000" stroke-width="2"/>
<line x1="247.05" y1="632.1" x2="255.55" y2="632.1" stroke="#000" stroke-width="2"/>
<line x1="315.5" y1="605" x2="315.5" y2="631.3" stroke="#000" stroke-width="2"/>
<line x1="311.25" y1="605" x2="319.75" y2="605" stroke="#000" stroke-width="2"/>
<line x1="311.25" y1="631.3" x2="319.75" y2="631.3" stroke="#000" stroke-width="2"/>
<line x1="58.6" y1="618.5" x2="58.6" y2="627.3" stroke="#000" stroke-width="2"/>
<line x1="54.35" y1="618.5" x2="62.85" y2="618.5" stroke="#000" stroke-width="2"/>
<line x1="54.35" y1="627.3" x2="62.85" y2="627.3" stroke="#000" stroke-width="2"/>
<line x1="123.1" y1="595.2" x2="123.1" y2="625.9" stroke="#000" stroke-width="2"/>
<line x1="118.85" y1="595.2" x2="127.35" y2="595.2" stroke="#000" stroke-width="2"/>
<line x1="118.85" y1="625.9" x2="127.35" y2="625.9" stroke="#000" stroke-width="2"/>
<line x1="187.3" y1="599.4" x2="187.3" y2="623" stroke="#000" stroke-width="2"/>
<line x1="183.05" y1="599.4" x2="191.55" y2="599.4" stroke="#000" stroke-width="2"/>
<line x1="183.05" y1="623" x2="191.55" y2="623" stroke="#000" stroke-width="2"/>
<line x1="251.3" y1="609.1" x2="251.3" y2="638.3" stroke="#000" stroke-width="2"/>
<line x1="247.05" y1="609.1" x2="255.55" y2="609.1" stroke="#000" stroke-width="2"/>
<line x1="247.05" y1="638.3" x2="255.55" y2="638.3" stroke="#000" stroke-width="2"/>
<line x1="315.5" y1="608.3" x2="315.5" y2="638.3" stroke="#000" stroke-width="2"/>
<line x1="311.25" y1="608.3" x2="319.75" y2="608.3" stroke="#000" stroke-width="2"/>
<line x1="311.25" y1="638.3" x2="319.75" y2="638.3" stroke="#000" stroke-width="2"/>
<rect x="55.6" y="608" width="6" height="6" fill="#fff" stroke="#000" stroke-width="1.6"/>
<rect x="120.1" y="614.8" width="6" height="6" fill="#fff" stroke="#000" stroke-width="1.6"/>
<rect x="184.3" y="608.9" width="6" height="6" fill="#fff" stroke="#000" stroke-width="1.6"/>
<rect x="248.3" y="620.6" width="6" height="6" fill="#fff" stroke="#000" stroke-width="1.6"/>
<rect x="312.5" y="613.9" width="6" height="6" fill="#fff" stroke="#000" stroke-width="1.6"/>
<polyline points="58.6,611 123.1,617.8 187.3,611.9 251.3,623.6 315.5,616.9" fill="none" stroke="#000" stroke-width="1.6" stroke-linejoin="round" stroke-dasharray="5.7,3.1"/>
<polyline points="58.6,620.7 123.1,609.8 187.3,611.9 251.3,623.6 315.5,623" fill="none" stroke="#000" stroke-width="1.9" stroke-linejoin="round"/>
<rect x="55.6" y="608" width="6" height="6" fill="none" stroke="#000" stroke-width="1.6"/>
<rect x="120.1" y="614.8" width="6" height="6" fill="none" stroke="#000" stroke-width="1.6"/>
<rect x="184.3" y="608.9" width="6" height="6" fill="none" stroke="#000" stroke-width="1.6"/>
<rect x="248.3" y="620.6" width="6" height="6" fill="none" stroke="#000" stroke-width="1.6"/>
<rect x="312.5" y="613.9" width="6" height="6" fill="none" stroke="#000" stroke-width="1.6"/>
<circle cx="58.6" cy="620.7" r="3.5" fill="#000"/>
<circle cx="123.1" cy="609.8" r="3.5" fill="#000"/>
<circle cx="187.3" cy="611.9" r="3.5" fill="#000"/>
<circle cx="251.3" cy="623.6" r="3.5" fill="#000"/>
<circle cx="315.5" cy="623" r="3.5" fill="#000"/>
<text x="61.2" y="577.6" font-size="14" font-weight="bold" text-anchor="start">Huh-7-DN</text>
<line x1="65.3" y1="725" x2="85.8" y2="725" stroke="#000" stroke-width="1.4"/>
<circle cx="75.5" cy="725" r="3.4" fill="#000"/>
<line x1="65.3" y1="746.1" x2="71.6" y2="746.1" stroke="#000" stroke-width="1.4"/>
<line x1="83.6" y1="746.1" x2="85.2" y2="746.1" stroke="#000" stroke-width="1.6"/>
<rect x="72.2" y="742.9" width="6.6" height="6.6" fill="none" stroke="#000" stroke-width="1.6"/>
<line x1="75.5" y1="746.1" x2="81.1" y2="746.1" stroke="#000" stroke-width="1.4"/>
<text x="92.6" y="729.8" font-size="14" font-weight="normal" text-anchor="start">without Sorafenib</text>
<text x="92.6" y="752" font-size="14" font-weight="normal" text-anchor="start">Sorafenib 10 μM</text>
<text x="1.5" y="568.9" font-size="14.5" font-weight="bold" text-anchor="start">e</text>
<line x1="416" y1="591.9" x2="416" y2="768.4" stroke="#000" stroke-width="1.6"/>
<line x1="410" y1="767.6" x2="416" y2="767.6" stroke="#000" stroke-width="1.6"/>
<text transform="translate(403.4,772.57) scale(1,1.08)" font-size="13" font-weight="bold" text-anchor="end">0</text>
<line x1="410" y1="742.5" x2="416" y2="742.5" stroke="#000" stroke-width="1.6"/>
<text transform="translate(403.4,747.47) scale(1,1.08)" font-size="13" font-weight="bold" text-anchor="end">20</text>
<line x1="410" y1="717.4" x2="416" y2="717.4" stroke="#000" stroke-width="1.6"/>
<text transform="translate(403.4,722.37) scale(1,1.08)" font-size="13" font-weight="bold" text-anchor="end">40</text>
<line x1="410" y1="692.3" x2="416" y2="692.3" stroke="#000" stroke-width="1.6"/>
<text transform="translate(403.4,697.27) scale(1,1.08)" font-size="13" font-weight="bold" text-anchor="end">60</text>
<line x1="410" y1="667.2" x2="416" y2="667.2" stroke="#000" stroke-width="1.6"/>
<text transform="translate(403.4,672.17) scale(1,1.08)" font-size="13" font-weight="bold" text-anchor="end">80</text>
<line x1="410" y1="642.1" x2="416" y2="642.1" stroke="#000" stroke-width="1.6"/>
<text transform="translate(403.4,647.07) scale(1,1.08)" font-size="13" font-weight="bold" text-anchor="end">100</text>
<line x1="410" y1="617" x2="416" y2="617" stroke="#000" stroke-width="1.6"/>
<text transform="translate(403.4,621.97) scale(1,1.08)" font-size="13" font-weight="bold" text-anchor="end">120</text>
<line x1="410" y1="591.9" x2="416" y2="591.9" stroke="#000" stroke-width="1.6"/>
<text transform="translate(403.4,596.87) scale(1,1.08)" font-size="13" font-weight="bold" text-anchor="end">140</text>
<line x1="410" y1="767.6" x2="678" y2="767.6" stroke="#000" stroke-width="1.6"/>
<line x1="416" y1="767.6" x2="416" y2="773.1" stroke="#000" stroke-width="1.6"/>
<text transform="translate(416,790.37) scale(1,1.08)" font-size="13" font-weight="bold" text-anchor="middle">0</text>
<line x1="480.4" y1="767.6" x2="480.4" y2="773.1" stroke="#000" stroke-width="1.6"/>
<text transform="translate(480.4,790.37) scale(1,1.08)" font-size="13" font-weight="bold" text-anchor="middle">0.1</text>
<line x1="544.8" y1="767.6" x2="544.8" y2="773.1" stroke="#000" stroke-width="1.6"/>
<text transform="translate(544.8,790.37) scale(1,1.08)" font-size="13" font-weight="bold" text-anchor="middle">1</text>
<line x1="609.5" y1="767.6" x2="609.5" y2="773.1" stroke="#000" stroke-width="1.6"/>
<text transform="translate(609.5,790.37) scale(1,1.08)" font-size="13" font-weight="bold" text-anchor="middle">5</text>
<line x1="674" y1="767.6" x2="674" y2="773.1" stroke="#000" stroke-width="1.6"/>
<text transform="translate(674,790.37) scale(1,1.08)" font-size="13" font-weight="bold" text-anchor="middle">10</text>
<text transform="translate(546.2,811.6) scale(1,1.04)" font-size="14" font-weight="bold" text-anchor="middle" letter-spacing="0.2">LDE225 (μ<tspan dx="1.6">M</tspan>)</text>
<text transform="translate(364.7,680.2) rotate(-90)" font-size="13.5" font-weight="bold" text-anchor="middle">% Cell Viability</text>
<line x1="416" y1="662.9" x2="416" y2="693" stroke="#000" stroke-width="1.3"/>
<line x1="412" y1="662.9" x2="420" y2="662.9" stroke="#000" stroke-width="1.6"/>
<line x1="412" y1="693" x2="420" y2="693" stroke="#000" stroke-width="1.6"/>
<line x1="480.4" y1="667.1" x2="480.4" y2="689.4" stroke="#000" stroke-width="1.3"/>
<line x1="476.4" y1="667.1" x2="484.4" y2="667.1" stroke="#000" stroke-width="1.6"/>
<line x1="476.4" y1="689.4" x2="484.4" y2="689.4" stroke="#000" stroke-width="1.6"/>
<line x1="544.8" y1="655.6" x2="544.8" y2="675.3" stroke="#000" stroke-width="1.3"/>
<line x1="540.8" y1="655.6" x2="548.8" y2="655.6" stroke="#000" stroke-width="1.6"/>
<line x1="540.8" y1="675.3" x2="548.8" y2="675.3" stroke="#000" stroke-width="1.6"/>
<line x1="609.5" y1="651.6" x2="609.5" y2="676.9" stroke="#000" stroke-width="1.3"/>
<line x1="605.5" y1="651.6" x2="613.5" y2="651.6" stroke="#000" stroke-width="1.6"/>
<line x1="605.5" y1="676.9" x2="613.5" y2="676.9" stroke="#000" stroke-width="1.6"/>
<line x1="674" y1="659.4" x2="674" y2="685.8" stroke="#000" stroke-width="1.3"/>
<line x1="670" y1="659.4" x2="678" y2="659.4" stroke="#000" stroke-width="1.6"/>
<line x1="670" y1="685.8" x2="678" y2="685.8" stroke="#000" stroke-width="1.6"/>
<line x1="416" y1="621.9" x2="416" y2="662.1" stroke="#000" stroke-width="1.3"/>
<line x1="412" y1="621.9" x2="420" y2="621.9" stroke="#000" stroke-width="1.6"/>
<line x1="412" y1="662.1" x2="420" y2="662.1" stroke="#000" stroke-width="1.6"/>
<line x1="480.4" y1="604.6" x2="480.4" y2="650.6" stroke="#000" stroke-width="1.3"/>
<line x1="476.4" y1="604.6" x2="484.4" y2="604.6" stroke="#000" stroke-width="1.6"/>
<line x1="476.4" y1="650.6" x2="484.4" y2="650.6" stroke="#000" stroke-width="1.6"/>
<line x1="544.8" y1="598.1" x2="544.8" y2="629.9" stroke="#000" stroke-width="1.3"/>
<line x1="540.8" y1="598.1" x2="548.8" y2="598.1" stroke="#000" stroke-width="1.6"/>
<line x1="540.8" y1="629.9" x2="548.8" y2="629.9" stroke="#000" stroke-width="1.6"/>
<line x1="609.5" y1="610.2" x2="609.5" y2="630.9" stroke="#000" stroke-width="1.3"/>
<line x1="605.5" y1="610.2" x2="613.5" y2="610.2" stroke="#000" stroke-width="1.6"/>
<line x1="605.5" y1="630.9" x2="613.5" y2="630.9" stroke="#000" stroke-width="1.6"/>
<line x1="674" y1="608.6" x2="674" y2="669.6" stroke="#000" stroke-width="1.3"/>
<line x1="670" y1="608.6" x2="678" y2="608.6" stroke="#000" stroke-width="1.6"/>
<line x1="670" y1="669.6" x2="678" y2="669.6" stroke="#000" stroke-width="1.6"/>
<rect x="477.2" y="674.4" width="6.4" height="6.4" fill="#fff" stroke="#000" stroke-width="1.5"/>
<rect x="541.6" y="662.2" width="6.4" height="6.4" fill="#fff" stroke="#000" stroke-width="1.5"/>
<rect x="606.3" y="661.2" width="6.4" height="6.4" fill="#fff" stroke="#000" stroke-width="1.5"/>
<rect x="670.8" y="669.4" width="6.4" height="6.4" fill="#fff" stroke="#000" stroke-width="1.5"/>
<polyline points="416,678.7 480.4,677.6 544.8,665.4 609.5,664.4 674,672.6" fill="none" stroke="#000" stroke-width="1.6" stroke-linejoin="round"/>
<polyline points="416,642 480.4,628.3 544.8,613.8 609.5,620.4 674,639.1" fill="none" stroke="#000" stroke-width="1.9" stroke-linejoin="round"/>
<rect x="412.8" y="675.5" width="6.4" height="6.4" fill="none" stroke="#000" stroke-width="1.5"/>
<rect x="477.2" y="674.4" width="6.4" height="6.4" fill="none" stroke="#000" stroke-width="1.5"/>
<rect x="541.6" y="662.2" width="6.4" height="6.4" fill="none" stroke="#000" stroke-width="1.5"/>
<rect x="606.3" y="661.2" width="6.4" height="6.4" fill="none" stroke="#000" stroke-width="1.5"/>
<rect x="670.8" y="669.4" width="6.4" height="6.4" fill="none" stroke="#000" stroke-width="1.5"/>
<circle cx="416" cy="642" r="3.5" fill="#000"/>
<circle cx="480.4" cy="628.3" r="3.5" fill="#000"/>
<circle cx="544.8" cy="613.8" r="3.5" fill="#000"/>
<circle cx="609.5" cy="620.4" r="3.5" fill="#000"/>
<circle cx="674" cy="639.1" r="3.5" fill="#000"/>
<path d="M422.3,701.4L422.3,698.8M422.3,701.4L424.77,700.6M422.3,701.4L423.83,703.5M422.3,701.4L420.77,703.5M422.3,701.4L419.83,700.6" stroke="#000" stroke-width="1.2" stroke-linecap="round" fill="none"/>
<path d="M428.3,701.4L428.3,698.8M428.3,701.4L430.77,700.6M428.3,701.4L429.83,703.5M428.3,701.4L426.77,703.5M428.3,701.4L425.83,700.6" stroke="#000" stroke-width="1.2" stroke-linecap="round" fill="none"/>
<path d="M477.4,701.4L477.4,698.8M477.4,701.4L479.87,700.6M477.4,701.4L478.93,703.5M477.4,701.4L475.87,703.5M477.4,701.4L474.93,700.6" stroke="#000" stroke-width="1.2" stroke-linecap="round" fill="none"/>
<path d="M483.4,701.4L483.4,698.8M483.4,701.4L485.87,700.6M483.4,701.4L484.93,703.5M483.4,701.4L481.87,703.5M483.4,701.4L480.93,700.6" stroke="#000" stroke-width="1.2" stroke-linecap="round" fill="none"/>
<path d="M544.8,685L544.8,682.4M544.8,685L547.27,684.2M544.8,685L546.33,687.1M544.8,685L543.27,687.1M544.8,685L542.33,684.2" stroke="#000" stroke-width="1.2" stroke-linecap="round" fill="none"/>
<path d="M606.5,686.7L606.5,684.1M606.5,686.7L608.97,685.9M606.5,686.7L608.03,688.8M606.5,686.7L604.97,688.8M606.5,686.7L604.03,685.9" stroke="#000" stroke-width="1.2" stroke-linecap="round" fill="none"/>
<path d="M612.5,686.7L612.5,684.1M612.5,686.7L614.97,685.9M612.5,686.7L614.03,688.8M612.5,686.7L610.97,688.8M612.5,686.7L610.03,685.9" stroke="#000" stroke-width="1.2" stroke-linecap="round" fill="none"/>
<path d="M671,696.5L671,693.9M671,696.5L673.47,695.7M671,696.5L672.53,698.6M671,696.5L669.47,698.6M671,696.5L668.53,695.7" stroke="#000" stroke-width="1.2" stroke-linecap="round" fill="none"/>
<path d="M677,696.5L677,693.9M677,696.5L679.47,695.7M677,696.5L678.53,698.6M677,696.5L675.47,698.6M677,696.5L674.53,695.7" stroke="#000" stroke-width="1.2" stroke-linecap="round" fill="none"/>
<text x="416.5" y="577.6" font-size="14" font-weight="bold" text-anchor="start">Huh-7-trans</text>
<line x1="428.7" y1="727.6" x2="448.4" y2="727.6" stroke="#000" stroke-width="1.4"/>
<circle cx="438.7" cy="727.6" r="3.4" fill="#000"/>
<line x1="428.7" y1="748.8" x2="448.4" y2="748.8" stroke="#000" stroke-width="1.4"/>
<rect x="435.4" y="745.7" width="6.6" height="6.6" fill="none" stroke="#000" stroke-width="1.4"/>
<text x="454.9" y="732.3" font-size="14" font-weight="normal" text-anchor="start">without Sorafenib</text>
<text x="454.9" y="754" font-size="14" font-weight="normal" text-anchor="start">Sorafenib 10 μM</text>
<text x="354" y="569.5" font-size="14.5" font-weight="bold" text-anchor="start">f</text>
</svg>
</body></html>
